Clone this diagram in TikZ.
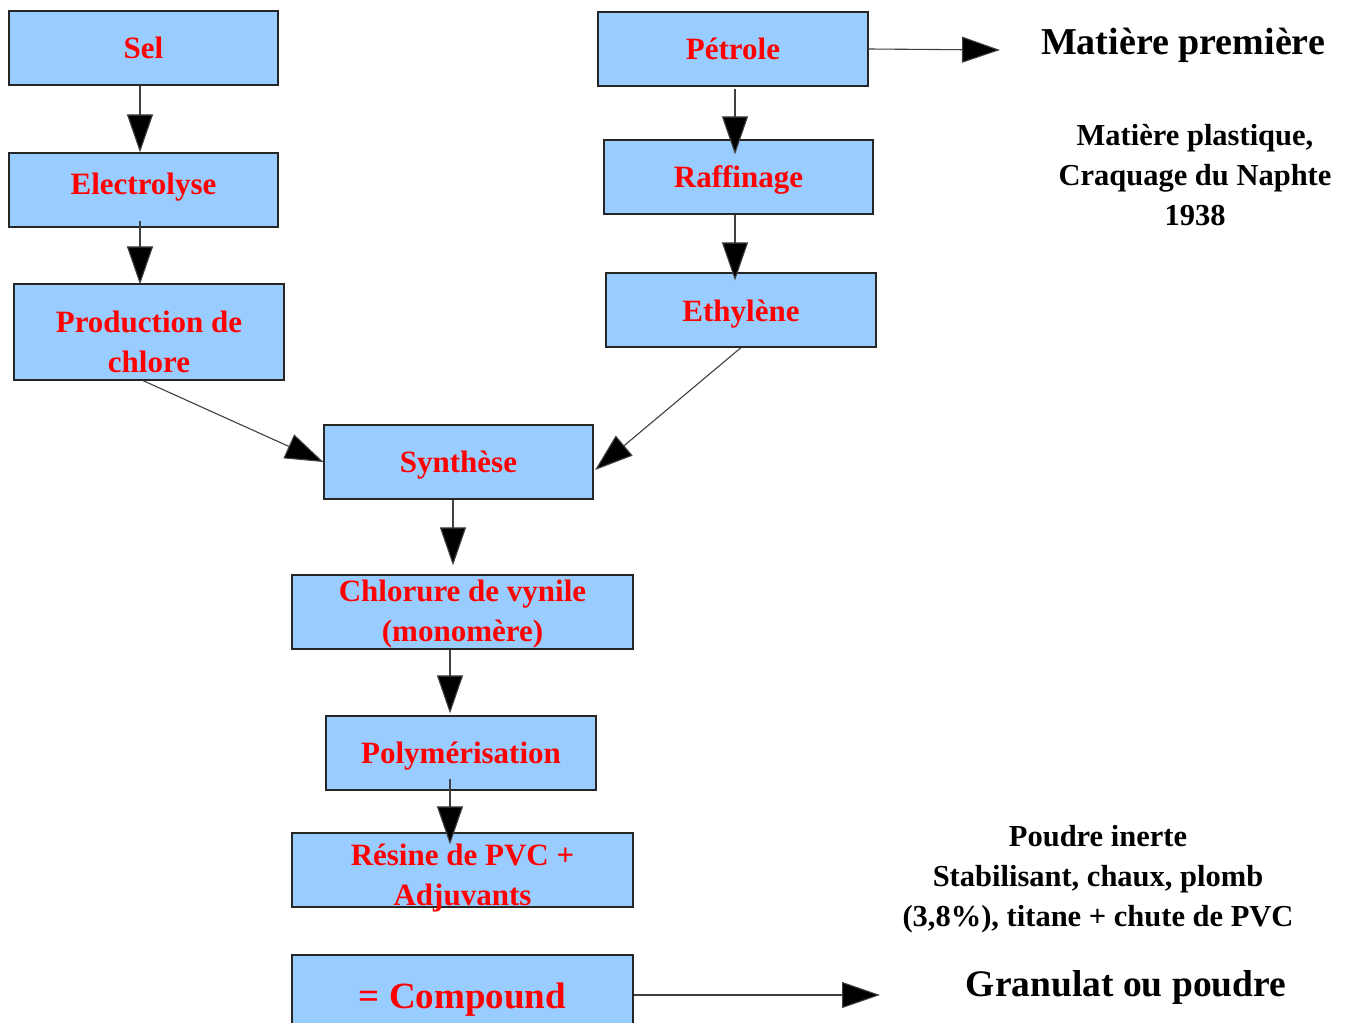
\documentclass[tikz,border=0pt]{standalone}
\usepackage{fontspec}
\setmainfont{Liberation Serif}
\usetikzlibrary{arrows.meta,calc}
\definecolor{boxblue}{HTML}{99CCFF}
\definecolor{boxred}{HTML}{FF0000}
\begin{document}
\begin{tikzpicture}[x=1pt,y=-1pt,
  stepbox/.style={draw=black!85, line width=1.2pt, fill=boxblue,
    minimum width=270pt, minimum height=74pt, inner sep=0pt},
  boxtext/.style={text=boxred, font=\bfseries\fontsize{31}{40}\selectfont, align=center, inner sep=0pt},
  conn/.style={draw=black!75, line width=1.1pt, -{Triangle[length=38pt,width=26pt,fill=black]}},
  bigtext/.style={font=\bfseries\fontsize{38}{44}\selectfont, align=center, inner sep=0pt},
  midtext/.style={font=\bfseries\fontsize{30.5}{40}\selectfont, align=center, inner sep=0pt}]
\clip (0,0) rectangle (1350,1023);
\fill[white] (0,0) rectangle (1350,1023);
% boxes
\node[stepbox, minimum width=269pt, label={[boxtext]center:Sel}] (sel) at (143.5,48) {};
\node[stepbox, minimum width=269pt, label={[boxtext,yshift=3pt]center:Electrolyse}] (ele) at (143.5,190) {};
\node[stepbox, minimum height=96pt, label={[boxtext,yshift=-10pt]center:Production de\\chlore}] (pro) at (149,332) {};
\node[stepbox, label={[boxtext]center:Pétrole}] (pet) at (733,49) {};
\node[stepbox, minimum width=269pt, label={[boxtext,yshift=-3pt]center:Raffinage}] (raf) at (738.5,177) {};
\node[stepbox, label={[boxtext,yshift=-4pt]center:Ethylène}] (eth) at (741,310) {};
\node[stepbox, minimum width=269pt, label={[boxtext,yshift=-3pt]center:Synthèse}] (syn) at (458.5,462) {};
\node[stepbox, minimum width=341pt, label={[boxtext,yshift=-2pt]center:Chlorure de vynile\\(monomère)}] (chl) at (462.5,612) {};
\node[stepbox, label={[boxtext,yshift=-3pt]center:Polymérisation}] (pol) at (461,753) {};
\node[stepbox, minimum width=341pt, label={[boxtext,yshift=-8pt]center:Résine de PVC +\\Adjuvants}] (res) at (462.5,870) {};
\node[stepbox, minimum width=341pt, minimum height=80pt, label={[boxtext,yshift=-5pt,font=\bfseries\fontsize{37}{44}\selectfont]center:= Compound}] (com) at (462.5,995) {};
% texts
\node[bigtext] (mp) at (1183,45) {Matière première};
\node[midtext] (plast) at (1195,175) {Matière plastique,\\Craquage du Naphte\\1938};
\node[midtext] (poud) at (1098,879) {Poudre inerte\\Stabilisant, chaux, plomb\\(3,8\%), titane + chute de PVC};
\node[bigtext, font=\bfseries\fontsize{37.5}{44}\selectfont] (gran) at (1126,987) {Granulat ou poudre};
\coordinate (mpend) at (1000,50);
\coordinate (granend) at (880,995);
% connectors
\draw[conn] ($(sel.south)+(-3.5,0)$) -- ($(ele.north)+(-3.5,0)$);
\draw[conn] ($(ele.south)+(-3.5,-7)$) -- ($(pro.north)+(-9,1)$);
\draw[conn] ($(pet.south)+(2,2)$) -- ($(raf.north)+(-3.5,15)$);
\draw[conn] ($(raf.south)+(-3.5,0)$) -- ($(eth.north)+(-6,8)$);
\draw[conn] ($(pro.south)+(-6,0)$) -- (syn.west);
\draw[conn] (eth.south) -- ($(syn.east)+(1.5,8)$);
\draw[conn] ($(syn.south)+(-5.5,0)$) -- ($(chl.north)+(-9.5,-9)$);
\draw[conn] ($(chl.south)+(-12.5,0)$) -- ($(pol.north)+(-11,-2)$);
\draw[conn] ($(pol.south)+(-11,-12)$) -- ($(res.north)+(-12.5,12)$);
\draw[conn] (pet.east) -- (mpend);
\draw[conn] (com.east) -- (granend);
\end{tikzpicture}
\end{document}
